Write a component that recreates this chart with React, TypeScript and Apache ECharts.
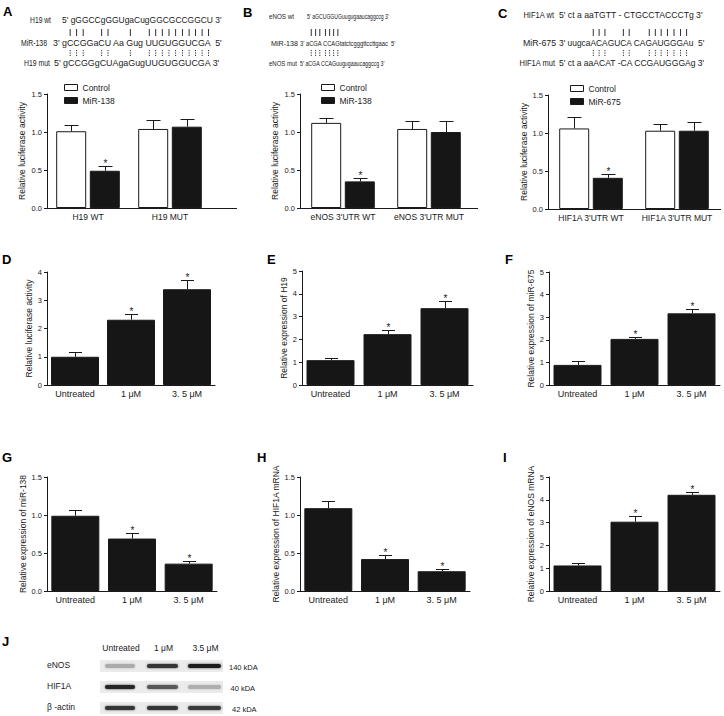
import React, { useEffect, useRef } from "react";
import * as echarts from "echarts";

const FONT = "'Liberation Sans', Arial, Helvetica, sans-serif";
const INK = "#1a1a1a";

// ---------------- data: luciferase reporter panels (A–C) ----------------
const catsA = ["H19 WT", "H19 MUT"];
const controlA = [1.01, 1.04];
const controlErrA = [0.08, 0.12];
const mir138A = [0.49, 1.07];
const mir138ErrA = [0.06, 0.1];

const catsB = ["eNOS 3'UTR WT", "eNOS 3'UTR MUT"];
const controlB = [1.12, 1.04];
const controlErrB = [0.07, 0.11];
const mir138B = [0.35, 1.0];
const mir138ErrB = [0.05, 0.14];

const catsC = ["HIF1A 3'UTR WT", "HIF1A 3'UTR MUT"];
const controlC = [1.06, 1.03];
const controlErrC = [0.15, 0.09];
const mir675C = [0.41, 1.03];
const mir675ErrC = [0.05, 0.12];

const pairStars = [1, 0];
const pairTicks = [0, 0.5, 1.0, 1.5];

// ---------------- data: dose panels (D–I) ----------------
const doseCats = ["Untreated", "1 μM", "3. 5 μM"];
const doseStars = [0, 1, 1];
const valD = [1.0, 2.31, 3.39];
const errD = [0.16, 0.2, 0.33];
const valE = [1.09, 2.23, 3.37];
const errE = [0.1, 0.2, 0.33];
const valF = [0.89, 2.04, 3.17];
const errF = [0.15, 0.1, 0.2];
const valG = [0.99, 0.69, 0.36];
const errG = [0.08, 0.07, 0.035];
const valH = [1.09, 0.42, 0.26];
const errH = [0.1, 0.05, 0.03];
const valI = [1.12, 3.04, 4.22];
const errI = [0.1, 0.24, 0.14];

// ---------------- data: sequences ----------------
const seqLabelsA = ["H19 wt", "MiR-138", "H19 mut"];
const seqLinesA = ["5' gGGCCgGGUgaCugGGCGCCGGCU 3'", "3' gCCGGaCU Aa Gug UUGUGGUCGA  5'", "5' gCCGGgCUAgaGugUUGUGGUCGA 3'"];
const pairMaskA = "    |||  ||    |   ||||||||||";
const seqLabelsB = ["eNOS wt", "MiR-138", "eNOS mut"];
const seqLinesB = ["5' aGCUGGUGuugugaaucaggccg 3'", "3' aCGA CCAGtatctcgggttccttgaac  5'", "5' aCGA CCAGuugugaaucaggccg 3'"];
const pairMaskB = "    ||| ||||";
const seqLabelsC = ["HIF1A wt", "MiR-675", "HIF1A mut"];
const seqLinesC = ["5' ct a aaTGTT - CTGCCTACCCTg 3'", "3' uugcaACAGUCA CAGAUGGGAu  5'", "5' ct a aaACAT -CA CCGAUGGGAg 3'"];
const pairMaskC = "        |||  ||   |||||||";

// ---------------- data: western blot (J) ----------------
const blotLanes = ["Untreated", "1 μM", "3.5 μM"];
const blotProteins = ["eNOS", "HIF1A", "β -actin"];
const blotSizes = ["140 kDA", "40 kDA", "42 kDA"];
const eNOSBand = [0.3, 0.85, 0.95];
const HIF1ABand = [0.92, 0.68, 0.28];
const actinBand = [0.85, 0.85, 0.82];

// ---------------- layout ----------------
const W = 724;
const H = 716;

function App() {
  const ref = useRef<HTMLDivElement>(null);

  useEffect(() => {
    if (!ref.current) return;
    const chart = echarts.init(ref.current, undefined, { renderer: "svg", width: W, height: H });

    const mctx = document.createElement("canvas").getContext("2d")!;
    const tw = (s: string, size: number) => {
      mctx.font = `${size}px ${FONT}`;
      return mctx.measureText(s).width;
    };

    const graphic: any[] = [];
    const txt = (text: string, x: number, y: number, opt: any = {}) => {
      graphic.push({
        type: "text",
        x,
        y,
        scaleX: opt.scaleX ?? 1,
        z: 10,
        style: {
          text,
          fontSize: opt.size ?? 9,
          fontFamily: FONT,
          fontWeight: opt.bold ? "bold" : "normal",
          fill: opt.color ?? INK,
          align: opt.align ?? "left",
          textAlign: opt.align ?? "left",
          verticalAlign: opt.va ?? "middle",
          textVerticalAlign: opt.va ?? "middle",
        },
      });
    };

    // panel letters
    const letters: [string, number, number][] = [
      ["A", 3, 11], ["B", 243, 12], ["C", 498, 13],
      ["D", 2, 259], ["E", 267, 259], ["F", 505, 259],
      ["G", 2, 457], ["H", 257, 457], ["I", 503, 457], ["J", 2, 641],
    ];
    letters.forEach(([l, x, y]) => txt(l, x, y, { size: 13, bold: true, color: "#000" }));

    // sequence blocks
    const drawSeq = (
      size: number, labels: string[], lines: string[], mask: string,
      labelRight: number[], labelW: number[], lineX: number[], lineW: number[], rowY: number[]
    ) => {
      const scales = lines.map((l, i) => lineW[i] / tw(l, size));
      labels.forEach((lb, i) => {
        txt(lb, labelRight[i], rowY[i], { size, align: "right", scaleX: Math.min(1, labelW[i] / tw(lb, size)) });
      });
      lines.forEach((l, i) => txt(l, lineX[i], rowY[i], { size, scaleX: scales[i] }));
      // pairing marks referenced to the miRNA line
      const ref = lines[1];
      const s = scales[1];
      for (let k = 0; k < mask.length; k++) {
        if (mask[k] !== "|") continue;
        const cx = lineX[1] + s * (tw(ref.slice(0, k), size) + tw(ref[k], size) / 2);
        graphic.push({ type: "line", z: 10, shape: { x1: cx, y1: 29, x2: cx, y2: 36 }, style: { stroke: INK, lineWidth: 0.9 } });
        graphic.push({ type: "line", z: 10, shape: { x1: cx, y1: 50, x2: cx, y2: 57 }, style: { stroke: INK, lineWidth: 0.9, lineDash: [1.2, 1.2] } });
      }
    };
    drawSeq(9, seqLabelsA, seqLinesA, pairMaskA, [51, 47, 50], [21, 26, 26], [62, 53, 54], [160, 170, 166], [20, 43, 63]);
    drawSeq(7.5, seqLabelsB, seqLinesB, pairMaskB, [294, 298, 297], [25, 27, 28], [307, 300, 300], [82, 96, 85], [16, 43, 63]);
    drawSeq(9, seqLabelsC, seqLinesC, pairMaskC, [554, 556, 555], [31, 33, 36], [559, 559, 559], [144, 146, 146], [15, 43, 63]);

    // x-axis extensions (GraphPad style long baseline) for A–C
    [[211, 237, 208], [472, 478, 208], [720, 721, 209]].forEach(([x1, x2, y]) => {
      graphic.push({ type: "line", z: 10, shape: { x1, y1: y + 0.5, x2, y2: y + 0.5 }, style: { stroke: INK, lineWidth: 1 } });
    });

    // western blot
    const laneX = [[105, 135], [147, 178], [188, 221]];
    const rowsY = [666, 687, 708];
    blotLanes.forEach((l, i) => txt(l, (laneX[i][0] + laneX[i][1]) / 2 + 1, 648, { size: 8.5, align: "center" }));
    const bands = [eNOSBand, HIF1ABand, actinBand];
    blotProteins.forEach((p, r) => {
      txt(p, 47, rowsY[r] - 1, { size: 8.5 });
      txt(blotSizes[r], 229 + r * 1.5, rowsY[r] + 1, { size: 7.5 });
      graphic.push({ type: "rect", z: 5, shape: { x: 100, y: rowsY[r] - 6, width: 123, height: 12 }, style: { fill: "#ebebeb" } });
      bands[r].forEach((v, li) => {
        const g = Math.round(235 - v * 215);
        graphic.push({
          type: "rect", z: 6,
          shape: { x: laneX[li][0], y: rowsY[r] - 2, width: laneX[li][1] - laneX[li][0], height: 4, r: 2 },
          style: { fill: `rgb(${g},${g},${g})`, shadowBlur: 2, shadowColor: `rgba(${g},${g},${g},0.8)` },
        });
      });
    });

    // ---------------- charts ----------------
    const grids: any[] = [];
    const xAxes: any[] = [];
    const yAxes: any[] = [];
    const series: any[] = [];
    const legends: any[] = [];

    const errRender = (offset: number, capHalf: number) => (params: any, api: any) => {
      const i = api.value(0), v = api.value(1), e = api.value(2), s = api.value(3);
      const p0 = api.coord([i, v]);
      const p1 = api.coord([i, v + e]);
      const x = Math.round(p0[0] + offset) + 0.5;
      const yTop = Math.round(p1[1]) + 0.5;
      const children: any[] = [
        { type: "line", shape: { x1: x, y1: p0[1], x2: x, y2: yTop }, style: { stroke: INK, lineWidth: 1 } },
        { type: "line", shape: { x1: x - capHalf, y1: yTop, x2: x + capHalf, y2: yTop }, style: { stroke: INK, lineWidth: 1 } },
      ];
      if (s) {
        children.push({
          type: "text", x, y: yTop - 3,
          style: { text: "*", fontSize: 10, fontFamily: FONT, fill: INK, align: "center", verticalAlign: "middle", textAlign: "center", textVerticalAlign: "middle" },
        });
      }
      return { type: "group", children };
    };

    const addAxes = (grid: any, cats: string[], max: number, interval: number, dec: number, name: string, nameGap: number, labelSize: number) => {
      const idx = grids.length;
      grids.push(grid);
      xAxes.push({
        type: "category", gridIndex: idx, data: cats,
        axisLine: { lineStyle: { color: INK, width: 1 } },
        axisTick: { show: false },
        axisLabel: { color: INK, fontSize: labelSize, fontFamily: FONT, margin: 4, interval: 0 },
      });
      yAxes.push({
        type: "value", gridIndex: idx, min: 0, max, interval,
        name, nameLocation: "middle", nameGap, nameRotate: 90,
        nameTextStyle: { color: INK, fontSize: 8.5, fontFamily: FONT },
        axisLine: { show: true, lineStyle: { color: INK, width: 1 } },
        axisTick: { show: true, length: 3, lineStyle: { color: INK } },
        splitLine: { show: false },
        axisLabel: { color: INK, fontSize: 7.5, fontFamily: FONT, margin: 5, formatter: (v: number) => v.toFixed(dec) },
      });
      return idx;
    };

    const BW = 30;
    const GAP = 0.12;
    const off = (BW + BW * GAP) / 2;
    const pairPanel = (
      grid: any, cats: string[], ctrl: number[], ctrlErr: number[], mir: number[], mirErr: number[],
      mirName: string, legendPos: [number, number], nameGap: number
    ) => {
      const idx = addAxes(grid, cats, pairTicks[pairTicks.length - 1], pairTicks[1] - pairTicks[0], 1, "Relative luciferase activity", nameGap, 8.5);
      series.push({
        type: "bar", name: "Control", xAxisIndex: idx, yAxisIndex: idx, data: ctrl,
        barWidth: BW, barGap: `${GAP * 100}%`,
        itemStyle: { color: "#ffffff", borderColor: INK, borderWidth: 1 },
      });
      series.push({
        type: "bar", name: mirName, xAxisIndex: idx, yAxisIndex: idx, data: mir,
        barWidth: BW, barGap: `${GAP * 100}%`,
        itemStyle: { color: "#161616", borderColor: INK, borderWidth: 1 },
      });
      series.push({
        type: "custom", xAxisIndex: idx, yAxisIndex: idx, z: 5,
        renderItem: errRender(-off, 7), encode: { x: 0, y: 1 },
        data: ctrl.map((v, i) => [i, v, ctrlErr[i], 0]),
      });
      series.push({
        type: "custom", xAxisIndex: idx, yAxisIndex: idx, z: 5,
        renderItem: errRender(off, 7), encode: { x: 0, y: 1 },
        data: mir.map((v, i) => [i, v, mirErr[i], pairStars[i]]),
      });
      legends.push({
        left: legendPos[0], top: legendPos[1], orient: "vertical",
        itemWidth: 13, itemHeight: 6, itemGap: 4, icon: "rect",
        textStyle: { color: INK, fontSize: 8.5, fontFamily: FONT },
        selectedMode: false,
        data: [
          { name: "Control", itemStyle: { color: "#ffffff", borderColor: INK, borderWidth: 1 } },
          { name: mirName, itemStyle: { color: "#161616", borderColor: INK, borderWidth: 1 } },
        ],
      });
    };

    pairPanel({ left: 47, top: 94, width: 164, height: 114 }, catsA, controlA, controlErrA, mir138A, mir138ErrA, "MiR-138", [59, 78], 21);
    pairPanel({ left: 300, top: 94, width: 172, height: 114 }, catsB, controlB, controlErrB, mir138B, mir138ErrB, "MiR-138", [316, 78], 21);
    pairPanel({ left: 548, top: 95, width: 172, height: 114 }, catsC, controlC, controlErrC, mir675C, mir675ErrC, "MiR-675", [565, 79], 20);

    const dosePanel = (grid: any, vals: number[], errs: number[], max: number, interval: number, dec: number, name: string, nameGap: number) => {
      const idx = addAxes(grid, doseCats, max, interval, dec, name, nameGap, 9);
      series.push({
        type: "bar", xAxisIndex: idx, yAxisIndex: idx, data: vals, barWidth: 48,
        itemStyle: { color: "#161616", borderColor: INK, borderWidth: 1 },
      });
      series.push({
        type: "custom", xAxisIndex: idx, yAxisIndex: idx, z: 5,
        renderItem: errRender(0, 6.5), encode: { x: 0, y: 1 },
        data: vals.map((v, i) => [i, v, errs[i], doseStars[i]]),
      });
    };

    dosePanel({ left: 47, top: 272, width: 168, height: 113 }, valD, errD, 4, 1, 0, "Relative luciferase activity", 13);
    dosePanel({ left: 302, top: 271, width: 171, height: 114 }, valE, errE, 5, 1, 0, "Relative expression of H19", 13);
    dosePanel({ left: 549, top: 272, width: 171, height: 113 }, valF, errF, 5, 1, 0, "Relative expression of miR-675", 11);
    dosePanel({ left: 47, top: 477, width: 170, height: 114 }, valG, errG, 1.5, 0.5, 1, "Relative expression of miR-138", 19);
    dosePanel({ left: 300, top: 477, width: 170, height: 114 }, valH, errH, 1.5, 0.5, 1, "Relative expression of HIF1A mRNA", 8);
    dosePanel({ left: 549, top: 477, width: 171, height: 114 }, valI, errI, 5, 1, 0, "Relative expression of eNOS mRNA", 11);

    chart.setOption({
      animation: false,
      backgroundColor: "#ffffff",
      textStyle: { fontFamily: FONT },
      grid: grids,
      xAxis: xAxes,
      yAxis: yAxes,
      legend: legends,
      series,
      graphic,
    });

    return () => chart.dispose();
  }, []);

  return (
    <div
      ref={ref}
      style={{ position: "absolute", left: 0, top: 0, width: W, height: H, background: "#fff" }}
    />
  );
}

export default App;
